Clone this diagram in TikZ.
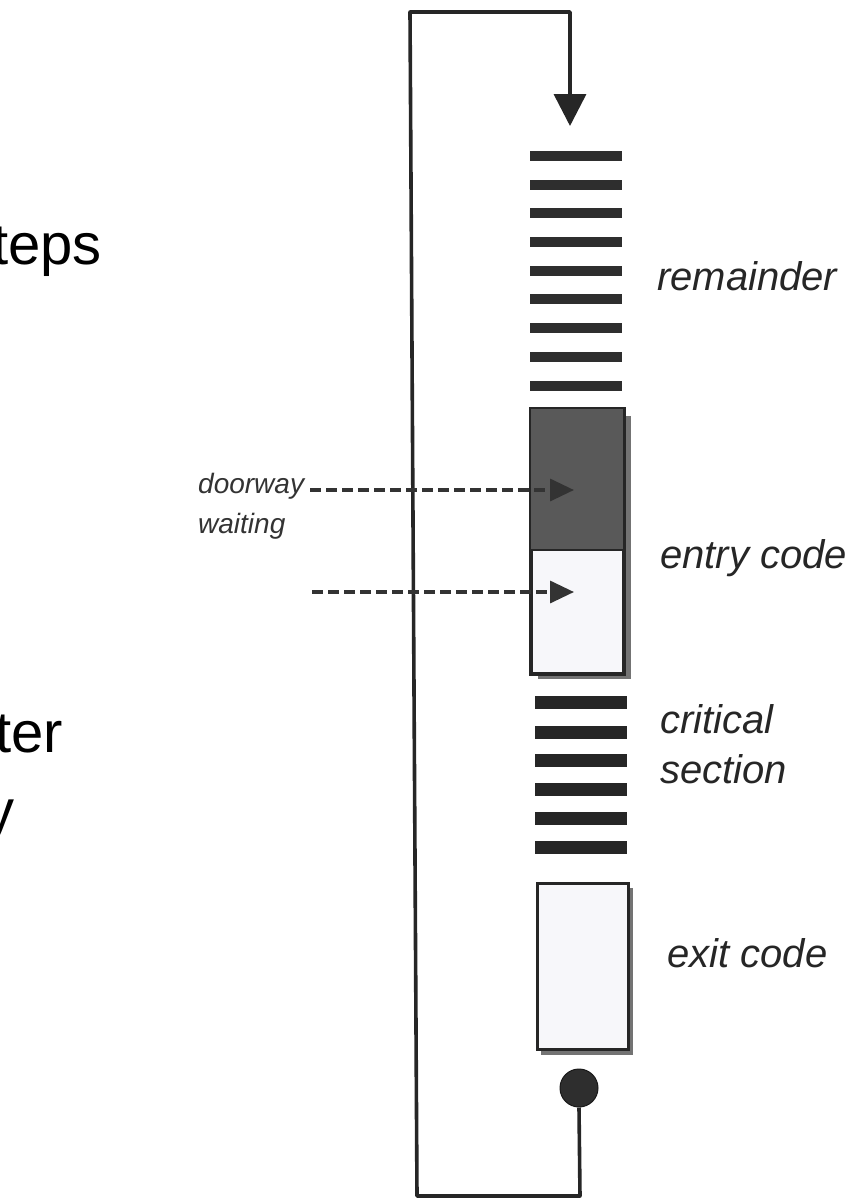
\documentclass[tikz,border=0pt]{standalone}
\usepackage{fontspec}
\setmainfont{Liberation Sans}
\usetikzlibrary{arrows.meta}
\definecolor{boxwhite}{RGB}{247,247,250}
\begin{document}
\begin{tikzpicture}[x=1pt,y=-1pt,
  loopline/.style={line width=3.6pt, draw=black!85, line join=round},
  rembar/.style={fill=black!82},
  critbar/.style={fill=black!85},
  dasharrow/.style={line width=3.4pt, draw=black!80, dash pattern=on 11pt off 5pt, -{Triangle[length=24pt,width=22pt]}},
  shadowbox/.style={fill=black!55},
  codebox/.style={draw=black!85, line width=2.6pt, fill=boxwhite},
  lab/.style={anchor=base west, inner sep=0pt, font=\fontsize{40}{48}\selectfont\itshape, text=black!85},
  smalllab/.style={anchor=base west, inner sep=0pt, font=\fontsize{28}{34}\selectfont\itshape, text=black!80},
  bigtext/.style={anchor=base west, inner sep=0pt, font=\fontsize{58}{70}\selectfont}
]
\useasboundingbox (0,0) rectangle (867,1203);

% big cut-off slide text
\node[bigtext] (t1) at (-8,264) {teps};
\node[bigtext] (t2) at (-5,752) {ter};
\node[bigtext] (t3) at (-15,830) {y};

% remainder bars
\foreach \yy in {156,184.5,213,242,270.5,299,328,357,386}
  \fill[rembar] (530,\yy-5) rectangle (622,\yy+5);

% entry code box
\fill[shadowbox] (538,416) rectangle (631,679);
\node[codebox, minimum width=92pt, minimum height=264pt, inner sep=0pt, anchor=north west] (entry) at (530,408) {};
\fill[black!65] ([shift={(1pt,-1pt)}]entry.north west) rectangle ([shift={(-1pt,-142pt)}]entry.north east);
\draw[black!85, line width=2.6pt] ([yshift=-142pt]entry.north west) -- ([yshift=-142pt]entry.north east);
\draw[draw=black!85, line width=2.6pt] (entry.north west) rectangle (entry.south east);

% critical section bars
\foreach \yy in {702,732,760,789,818,847}
  \fill[critbar] (535,\yy-6.5) rectangle (627,\yy+6.5);

% exit code box
\fill[shadowbox] (541,888) rectangle (633,1055);
\node[codebox, minimum width=91pt, minimum height=166pt, inner sep=0pt, anchor=north west] (exit) at (536,882) {};

% dot
\node[circle, fill=black!82, draw=black!90, line width=1pt, minimum size=38pt, inner sep=0pt] (dot) at (579,1088) {};

% loop
\coordinate (br) at (580,1196);
\coordinate (bl) at (417,1196);
\coordinate (tl) at (410,12);
\coordinate (tr) at (570,12);
\coordinate (tip) at (570,126);
\draw[loopline, -{Triangle[length=32pt,width=32pt]}] (dot.south) -- (br) -- (bl) -- (tl) -- (tr) -- (tip);

% dashed arrows
\coordinate (d1s) at (310,490);
\coordinate (d1e) at (574,490);
\coordinate (d2s) at (312,592);
\coordinate (d2e) at (574,592);
\draw[dasharrow] (d1s) -- (d1e);
\draw[dasharrow] (d2s) -- (d2e);

% labels
\node[smalllab] (door) at (198,493) {doorway};
\node[smalllab] (wait) at (198,533) {waiting};
\node[lab] (rem) at (657,290) {remainder};
\node[lab] (ent) at (660,568) {entry code};
\node[lab] (crit1) at (660,733) {critical};
\node[lab] (crit2) at (660,783) {section};
\node[lab] (ex) at (667,967) {exit code};
\end{tikzpicture}
\end{document}
